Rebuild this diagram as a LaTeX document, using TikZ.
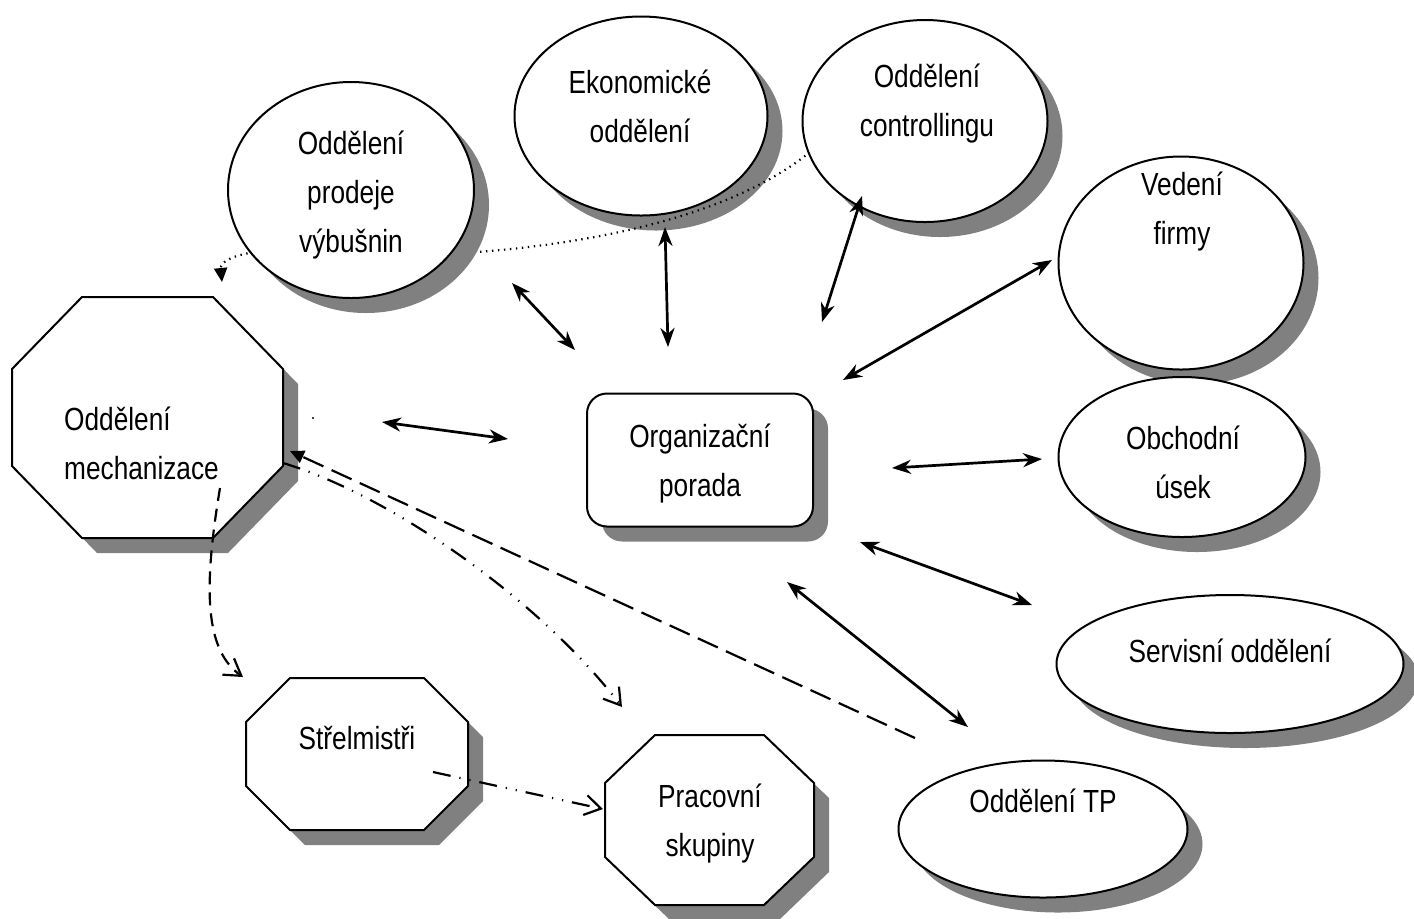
\documentclass[tikz,border=0pt]{standalone}
\usepackage{fontspec}
\setmainfont{Liberation Sans}[FakeStretch=0.82]
\usetikzlibrary{arrows.meta,shapes.geometric,shadows,backgrounds}
\definecolor{shade}{RGB}{128,128,128}
\newcommand{\boxfont}{\fontsize{16pt}{24.5pt}\selectfont}
\tikzset{
  shadowed/.style={fill=white, draw, line width=1pt,
                   general shadow={fill=shade, shadow xshift=7.5pt, shadow yshift=-7.5pt}},
  oval/.style={shadowed, ellipse, inner sep=0pt},
  roundbox/.style={shadowed, rectangle, rounded corners=10pt, inner sep=0pt},
  octbox/.style={rectangle, inner sep=0pt, outer sep=0pt},
  octline/.style={shadowed, line join=miter},
  txt/.style={font=\boxfont, align=center, inner sep=0pt},
  link/.style={{Stealth[length=9.5pt,width=7pt,inset=3pt]}-{Stealth[length=9.5pt,width=7pt,inset=3pt]},
               line width=1.35pt},
  dotline/.style={-{Triangle[length=7pt,width=6.5pt]}, line width=1.1pt, dash pattern=on 0.7pt off 2.3pt},
  dashline/.style={-{Straight Barb[length=8pt,width=10pt]}, line width=1.1pt, dash pattern=on 6.5pt off 4pt},
  longdash/.style={-{Triangle[length=7pt,width=6.5pt]}, line width=1.1pt, dash pattern=on 11pt off 4.5pt},
  dashdot/.style={-{Straight Barb[length=8pt,width=10pt]}, line width=1.1pt,
                  dash pattern=on 9pt off 4.5pt on 0.6pt off 4.5pt on 0.6pt off 4.5pt},
}
% octagon round a placeholder node: #1 node, #2 x cut, #3 y cut
\newcommand{\octagon}[3]{%
  \draw[octline] ([xshift=#2]#1.north west) -- ([xshift=-#2]#1.north east)
    -- ([yshift=-#3]#1.north east) -- ([yshift=#3]#1.south east)
    -- ([xshift=-#2]#1.south east) -- ([xshift=#2]#1.south west)
    -- ([yshift=#3]#1.south west) -- ([yshift=-#3]#1.north west) -- cycle;}

\begin{document}
\begin{tikzpicture}[x=0.5pt, y=-0.5pt]
  \useasboundingbox (0,0) rectangle (1414,918);

  % departments
  \node[oval, minimum width=123pt, minimum height=108pt] (prodeje) at (351,190) {};
  \node[oval, minimum width=122.5pt, minimum height=101pt] (ctrl) at (925,121) {};
  \node[oval, minimum width=122.5pt, minimum height=106.5pt] (vedeni) at (1181,263) {};
  \node[oval, minimum width=123.5pt, minimum height=80pt] (obchod) at (1182,457) {};
  \node[oval, minimum width=173.5pt, minimum height=69pt] (servis) at (1230,664) {};
  \node[oval, minimum width=144.5pt, minimum height=68.5pt] (tp) at (1043,829) {};
  \node[roundbox, minimum width=113pt, minimum height=66.5pt] (org) at (700,460) {};
  \node[octbox, minimum width=135.5pt, minimum height=120.5pt] (mech) at (147.5,417.5) {};
  \octagon{mech}{35pt}{36pt}
  \node[octbox, minimum width=111pt, minimum height=76pt] (strel) at (357,754) {};
  \octagon{strel}{22pt}{22pt}
  \node[octbox, minimum width=104.5pt, minimum height=85pt] (prac) at (709.5,820) {};
  \octagon{prac}{25pt}{24pt}

  % texts
  \node[txt] (prodeje-t) at (351,195) {Oddělení\\ prodeje\\ výbušnin};
  \node[txt] (ekonom-t) at (640,106) {Ekonomické\\ oddělení};
  \node[txt] (ctrl-t) at (927,104) {Oddělení\\ controllingu};
  \node[txt] (vedeni-t) at (1182,212) {Vedení\\ firmy};
  \node[txt] (obchod-t) at (1183,462) {Obchodní\\ úsek};
  \node[txt] (servis-t) at (1230,651) {Servisní oddělení};
  \node[txt] (tp-t) at (1043,801) {Oddělení TP};
  \node[txt] (org-t) at (700,464) {Organizační\\ porada};
  \node[txt, align=left] (mech-t) at (141.5,443) {Oddělení\\ mechanizace};
  \node[txt] (strel-t) at (357,738) {Střelmistři};
  \node[txt] (prac-t) at (710,824) {Pracovní\\ skupiny};

  % connector ends
  \coordinate (prodeje-a) at (512,283);  \coordinate (prodeje-b) at (575,350);
  \coordinate (ekonom-a) at (665,227);   \coordinate (ekonom-b) at (668,347);
  \coordinate (ctrl-a) at (862,196);     \coordinate (ctrl-b) at (822,322);
  \coordinate (vedeni-a) at (1052,260);  \coordinate (vedeni-b) at (843,380);
  \coordinate (obchod-a) at (1042,459);  \coordinate (obchod-b) at (892,468);
  \coordinate (servis-a) at (1032,605);  \coordinate (servis-b) at (860,542);
  \coordinate (tp-a) at (968,727);       \coordinate (tp-b) at (787,582);
  \coordinate (mech-a) at (382,422);     \coordinate (mech-b) at (508,439);

  % links to the meeting
  \draw[link] (prodeje-a) -- (prodeje-b);
  \draw[link] (ekonom-a) -- (ekonom-b);
  \draw[link] (ctrl-a) -- (ctrl-b);
  \draw[link] (vedeni-a) -- (vedeni-b);
  \draw[link] (obchod-a) -- (obchod-b);
  \draw[link] (servis-a) -- (servis-b);
  \draw[link] (tp-a) -- (tp-b);
  \draw[link] (mech-a) -- (mech-b);

  % other relations
  \coordinate (ctrl-out) at (810,152);   \coordinate (mech-in) at (222,282);
  \begin{scope}[on background layer]
    \node[oval, minimum width=126.5pt, minimum height=99.5pt] (ekonom) at (641,116) {};
    \draw[dotline] (ctrl-out) .. controls (745,205) and (630,240) .. (478,252)
      -- (290,250) .. controls (235,250) and (220,262) .. (mech-in);
  \end{scope}
  \coordinate (mech-s) at (220,488);     \coordinate (strel-in) at (243,677);
  \draw[dashline] (mech-s) .. controls (203,590) and (205,650) .. (strel-in);
  \coordinate (mech-e) at (283,463);     \coordinate (prac-in) at (622,707);
  \draw[dashdot] (mech-e) .. controls (390,495) and (540,600) .. (prac-in);
  \coordinate (tp-out) at (915,738);     \coordinate (mech-e2) at (290,451);
  \draw[longdash] (tp-out) -- (mech-e2);
  \coordinate (strel-e) at (433,772);    \coordinate (prac-w) at (603,809);
  \draw[dashdot] (strel-e) -- (prac-w);
  \fill (313,418) circle (0.6pt);
\end{tikzpicture}
\end{document}
